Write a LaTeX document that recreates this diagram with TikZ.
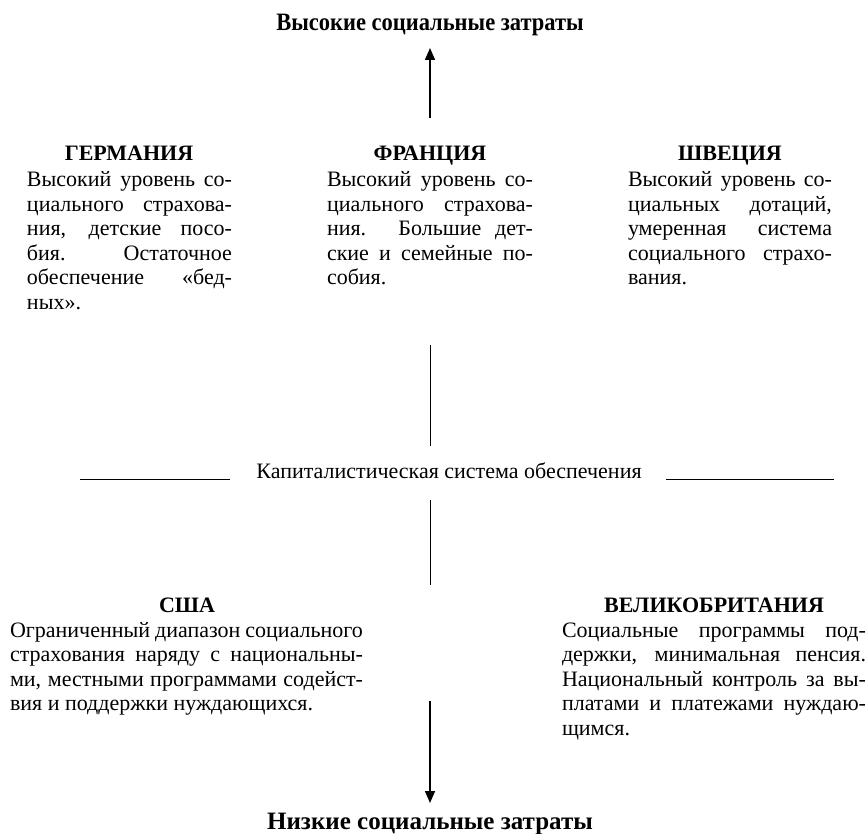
\documentclass[tikz,border=0pt]{standalone}
\usepackage{fontspec}
\setmainfont{Liberation Serif}
\usetikzlibrary{arrows.meta}
\tolerance=10000
\hbadness=10000
\begin{document}
\begin{tikzpicture}[x=1pt,y=-1pt,
  every node/.style={inner sep=0pt, outer sep=0pt},
  bodytext/.style={font=\fontsize{22}{24.5}\selectfont, align=justify},
  headtext/.style={font=\fontsize{22}{24.5}\selectfont\bfseries, anchor=base},
  titletext/.style={font=\fontsize{25}{28}\selectfont\bfseries, anchor=base},
  plainline/.style={line width=0.8pt},
  bigarrow/.style={line width=1.6pt, -{Triangle[length=12pt,width=10pt]}}]
\useasboundingbox (0,0) rectangle (868,834);

% top title and arrow
\node[titletext] (hi) at (430,31) {\scalebox{0.9}[1]{Высокие социальные затраты}};
\coordinate (hiA) at (430,118);
\coordinate (hiB) at (430,48);
\draw[bigarrow] (hiA) -- (hiB);

% top row
\node[headtext] (deh) at (129,161) {ГЕРМАНИЯ};
\node[bodytext, text width=205pt, anchor=base west] (deb) at (27,187)
 {Высокий уровень со-\linebreak циального страхова-\linebreak ния, детские посо-\linebreak бия. Остаточное\linebreak обеспечение «бед-\linebreak ных».};

\node[headtext] (frh) at (430,161) {ФРАНЦИЯ};
\node[bodytext, text width=206pt, anchor=base west] (frb) at (327,187)
 {Высокий уровень со-\linebreak циального страхова-\linebreak ния. Большие дет-\linebreak ские и семейные по-\linebreak собия.};

\node[headtext] (seh) at (730,161) {ШВЕЦИЯ};
\node[bodytext, text width=204pt, anchor=base west] (seb) at (628,187)
 {Высокий уровень со-\linebreak циальных дотаций,\linebreak умеренная система\linebreak социального страхо-\linebreak вания.};

% middle
\coordinate (v1a) at (430,345);
\coordinate (v1b) at (430,446);
\draw[plainline] (v1a) -- (v1b);

\node[bodytext, anchor=base] (cap) at (449,478) {Капиталистическая система обеспечения};
\coordinate (h1a) at (80,479);
\coordinate (h1b) at (230,479);
\coordinate (h2a) at (666,479);
\coordinate (h2b) at (834,479);
\draw[plainline] (h1a) -- (h1b);
\draw[plainline] (h2a) -- (h2b);

\coordinate (v2a) at (430,500);
\coordinate (v2b) at (430,585);
\draw[plainline] (v2a) -- (v2b);

% bottom row
\node[headtext] (ush) at (187,612) {США};
\node[bodytext, text width=353pt, anchor=base west] (usb) at (10,637)
 {Ограниченный диапазон социального\linebreak страхования наряду с национальны-\linebreak ми, местными программами содейст-\linebreak вия и поддержки нуждающихся.};

\node[headtext] (gbh) at (714,612) {ВЕЛИКОБРИТАНИЯ};
\node[bodytext, text width=304pt, anchor=base west] (gbb) at (562,637)
 {Социальные программы под-\linebreak держки, минимальная пенсия.\linebreak Национальный контроль за вы-\linebreak платами и платежами нуждаю-\linebreak щимся.};

% bottom arrow and title
\coordinate (loA) at (430,701);
\coordinate (loB) at (430,803);
\draw[bigarrow] (loA) -- (loB);
\node[titletext] (lo) at (430,829) {Низкие социальные затраты};
\end{tikzpicture}
\end{document}
